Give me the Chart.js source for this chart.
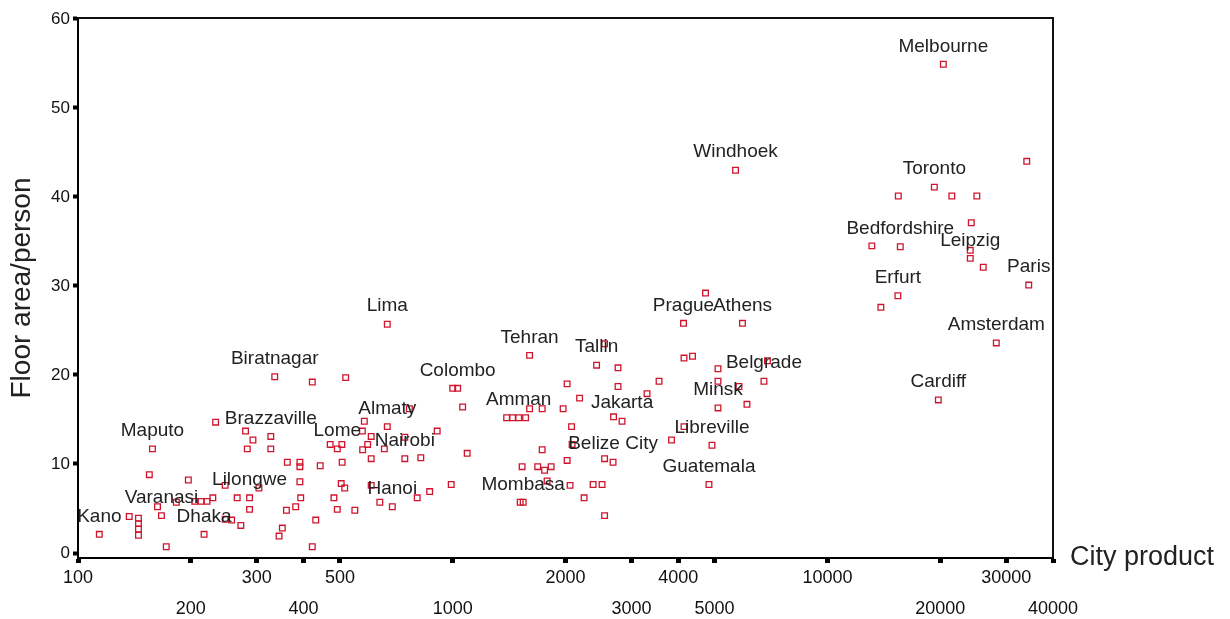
<!DOCTYPE html>
<html lang="en">
<head>
<meta charset="UTF-8">
<title>Floor area per person vs city product</title>
<style>
  body { margin: 0; background: #fff; }
  .chart-container { position: relative; width: 1230px; height: 619px; }
</style>
</head>
<body>
<div class="chart-container"><canvas id="scatter"></canvas></div>

<script src="https://cdn.jsdelivr.net/npm/chart.js@4.4.1/dist/chart.umd.min.js"></script>
<script>
// city product (log axis), floor area per person, case label ('' = unlabelled)
const cityProduct = [
  114, 145, 145, 145, 145, 137, 155, 158, 167, 172,
  163, 183, 197, 205, 213, 221, 229, 217, 233, 247,
  247, 257, 266, 272, 280, 293, 283, 287, 287, 304,
  327, 327, 335, 362, 360, 351, 344, 381, 391, 391,
  391, 393, 422, 443, 431, 422, 518, 471, 492, 506,
  507, 504, 515, 482, 492, 548, 574, 581, 575, 593,
  606, 606, 606, 657, 669, 639, 690, 745, 745, 766,
  804, 822, 868, 909, 669, 991, 1093, 1000, 1031, 1063,
  1604, 2543, 2421, 2762, 2020, 2762, 2181, 1393, 1445, 1500,
  1565, 1604, 1733, 1971, 2076, 2687, 2831, 3301, 3554, 1733,
  2083, 2020, 2543, 2679, 1532, 1686, 1831, 1759, 1786, 1514,
  1542, 2057, 2370, 2504, 2242, 2543,
  4728, 4130, 5933, 4143, 4365, 5105, 6918, 5105, 6770, 5807,
  6100, 5105, 4143, 3837, 4920, 4830, 5686,
  20390, 34040, 19290, 15460, 21480, 25050, 24210, 13140, 15650, 24060,
  24060, 26060, 34460, 15420, 13890, 28230, 19770
];
const floorArea = [
  2.1, 3.9, 3.3, 2.7, 2.0, 4.1, 8.8, 11.7, 4.2, 0.7,
  5.2, 5.7, 8.2, 5.8, 5.8, 5.8, 6.2, 2.1, 14.7, 7.6,
  3.8, 3.7, 6.2, 3.1, 13.7, 12.7, 11.7, 6.2, 4.9, 7.3,
  13.1, 11.7, 19.8, 10.2, 4.8, 2.8, 1.9, 5.2, 10.2, 9.7,
  8.0, 6.2, 19.2, 9.8, 3.7, 0.7, 19.7, 12.2, 11.7, 12.2,
  10.2, 7.8, 7.3, 6.2, 4.9, 4.8, 13.7, 14.8, 11.6, 12.2,
  13.1, 10.6, 7.6, 11.7, 14.2, 5.7, 5.2, 10.6, 13.0, 16.2,
  6.2, 10.7, 6.9, 13.7, 25.7, 7.7, 11.2, 18.5, 18.5, 16.4,
  22.2, 23.5, 21.1, 20.8, 19.0, 18.7, 17.4, 15.2, 15.2, 15.2,
  15.2, 16.2, 16.2, 16.2, 14.2, 15.3, 14.8, 17.9, 19.3, 11.6,
  12.2, 10.4, 10.6, 10.2, 9.7, 9.7, 9.7, 9.3, 8.1, 5.7,
  5.7, 7.6, 7.7, 7.7, 6.2, 4.2,
  29.2, 25.8, 25.8, 21.9, 22.1, 20.7, 21.6, 19.3, 19.3, 18.7,
  16.7, 16.3, 14.2, 12.7, 12.1, 7.7, 43.0,
  54.9, 44.0, 41.1, 40.1, 40.1, 40.1, 37.1, 34.5, 34.4, 34.0,
  33.1, 32.1, 30.1, 28.9, 27.6, 23.6, 17.2
];
const cityName = [
  'Kano', '', '', '', '', '', '', 'Maputo', 'Varanasi', '',
  '', '', '', '', '', '', '', 'Dhaka', '', '',
  '', '', '', '', '', '', '', 'Lilongwe', '', '',
  'Brazzaville', '', 'Biratnagar', '', '', '', '', '', '', '',
  '', '', '', '', '', '', '', '', 'Lome', '',
  '', '', '', '', '', '', '', '', '', '',
  '', '', '', '', 'Almaty', '', 'Hanoi', 'Nairobi', '', '',
  '', '', '', '', 'Lima', '', '', '', 'Colombo', '',
  'Tehran', '', 'Tallin', '', '', '', '', '', '', 'Amman',
  '', '', '', '', '', '', 'Jakarta', '', '', '',
  '', '', '', 'Belize City', '', '', '', '', '', '',
  'Mombasa', '', '', '', '', '',
  '', 'Prague', 'Athens', '', '', '', '', '', 'Belgrade', '',
  '', 'Minsk', '', '', 'Libreville', 'Guatemala', 'Windhoek',
  'Melbourne', '', 'Toronto', '', '', '', '', '', 'Bedfordshire', '',
  'Leipzig', '', 'Paris', 'Erfurt', '', 'Amsterdam', 'Cardiff'
];

const xTickValues = [100, 200, 300, 400, 500, 1000, 2000, 3000, 4000, 5000, 10000, 20000, 30000, 40000];
const yTickValues = [0, 10, 20, 30, 40, 50, 60];

const points = cityProduct.map((x, i) => ({ x: x, y: floorArea[i] }));

const fontFamily = '"Liberation Sans", Arial, sans-serif';

// top/right frame, case labels above the points, and the x title beside the axis
const frameAndLabels = {
  id: 'frameAndLabels',
  afterDatasetsDraw(chart) {
    const ctx = chart.ctx;
    const area = chart.chartArea;
    const meta = chart.getDatasetMeta(0);
    ctx.save();
    ctx.strokeStyle = '#111';
    ctx.lineWidth = 2;
    ctx.beginPath();
    ctx.moveTo(area.left, area.top);
    ctx.lineTo(area.right, area.top);
    ctx.lineTo(area.right, area.bottom);
    ctx.stroke();

    ctx.font = '19px ' + fontFamily;
    ctx.fillStyle = '#222';
    ctx.textAlign = 'center';
    ctx.textBaseline = 'middle';
    cityName.forEach((name, i) => {
      if (!name) return;
      const pt = meta.data[i];
      ctx.fillText(name, pt.x, pt.y - 18);
    });

    ctx.textAlign = 'left';
    ctx.font = '27px ' + fontFamily;
    ctx.fillText('City product', area.right + 17, area.bottom);
    ctx.restore();
  }
};

new Chart(document.getElementById('scatter'), {
  type: 'scatter',
  data: {
    datasets: [{
      data: points,
      pointStyle: 'rect',
      pointRadius: 4,
      pointHoverRadius: 4,
      pointBorderWidth: 1.3,
      pointBorderColor: '#d0142c',
      pointBackgroundColor: 'rgba(255,255,255,0)'
    }]
  },
  options: {
    responsive: true,
    maintainAspectRatio: false,
    animation: false,
    layout: { padding: { top: 18, right: 177, left: 0, bottom: 0 } },
    plugins: {
      legend: { display: false },
      tooltip: { enabled: false }
    },
    scales: {
      x: {
        type: 'logarithmic',
        min: 100,
        max: 40000,
        afterBuildTicks: s => { s.ticks = xTickValues.map(v => ({ value: v })); },
        afterFit: s => { s.height = 61; },
        grid: { drawOnChartArea: false, drawTicks: true, tickLength: 5, tickWidth: 5, color: '#000' },
        border: { display: true, color: '#000', width: 2 },
        ticks: {
          autoSkip: false,
          maxRotation: 0,
          padding: 0,
          color: '#111',
          font: { family: fontFamily, size: 18, lineHeight: 1.7 },
          callback: (value, index) => {
            const txt = String(Math.round(value));
            return index % 2 ? ['', txt] : txt;   // staggered rows
          }
        }
      },
      y: {
        min: -0.56,
        max: 60.1,
        afterBuildTicks: s => { s.ticks = yTickValues.map(v => ({ value: v })); },
        afterFit: s => { s.width = 78; },
        grid: { drawOnChartArea: false, drawTicks: true, tickLength: 5, tickWidth: 4, color: '#000' },
        border: { display: true, color: '#000', width: 2 },
        title: {
          display: true,
          text: 'Floor area/person',
          color: '#222',
          padding: { top: 5, bottom: 0 },
          font: { family: fontFamily, size: 28 }
        },
        ticks: {
          padding: 3,
          color: '#111',
          font: { family: fontFamily, size: 17 }
        }
      }
    }
  },
  plugins: [frameAndLabels]
});
</script>
</body>
</html>
